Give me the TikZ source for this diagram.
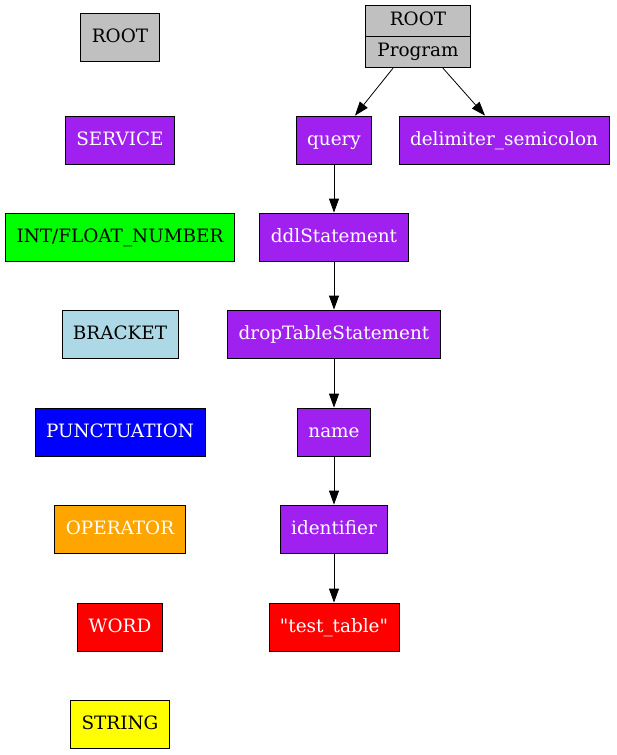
\documentclass[tikz,border=0pt]{standalone}
\usepackage{fontspec}
\setmainfont{DejaVu Serif}
\usetikzlibrary{arrows.meta,shapes.multipart}
\definecolor{root}{RGB}{192,192,192}
\definecolor{service}{RGB}{160,32,240}
\definecolor{number}{RGB}{0,255,0}
\definecolor{bracket}{RGB}{173,216,230}
\definecolor{punct}{RGB}{0,0,255}
\definecolor{operator}{RGB}{255,165,0}
\definecolor{word}{RGB}{255,0,0}
\definecolor{string}{RGB}{255,255,0}

\begin{document}
\begin{tikzpicture}[x=1pt,y=-1pt,
		box/.style={draw,line width=0.8pt,minimum height=48pt,minimum width=72pt,inner xsep=11pt,
			text height=15pt,text depth=4.5pt,font=\fontsize{18.4}{22}\selectfont},
		edge/.style={line width=0.8pt,-{Triangle[length=14pt,width=10pt]}}]
	\useasboundingbox (0,0) rectangle (616,755);
	% legende
	\foreach \Name/\Col/\Txt/\Y [count=\i] in {ROOT/root/black/37, SERVICE/service/white/140,
		{INT/FLOAT\_NUMBER}/number/black/237, BRACKET/bracket/black/334,
		PUNCTUATION/punct/white/432, OPERATOR/operator/white/529,
		WORD/word/white/627, STRING/string/black/724}{
		\node[box,fill=\Col,text=\Txt] (leg\i) at (120,\Y) {\Name};}
	% arbre
	\node[draw,line width=0.8pt,fill=root,rectangle split,rectangle split parts=2,
		minimum width=105pt,inner xsep=11pt,inner ysep=4.25pt,font=\fontsize{18.4}{22}\selectfont]
		(prog) at (418,36.5) {\strut ROOT\nodepart{two}\strut Program};
	\node[box,fill=service,text=white] (query) at (334,140) {query};
	\node[box,fill=service,text=white] (delim) at (504,140) {delimiter\_semicolon};
	\node[box,fill=service,text=white] (ddl) at (334,237) {ddlStatement};
	\node[box,fill=service,text=white] (drop) at (334,334) {dropTableStatement};
	\node[box,fill=service,text=white] (name) at (334,432) {name};
	\node[box,fill=service,text=white] (ident) at (334,529) {identifier};
	\node[box,fill=word,text=white] (table) at (334,627) {\textquotedbl test\_table\textquotedbl};
	\draw[edge] ([xshift=-25pt]prog.south) -- ([xshift=21pt]query.north);
	\draw[edge] ([xshift=25pt]prog.south) -- ([xshift=-19pt]delim.north);
	\draw[edge] (query) -- (ddl);
	\draw[edge] (ddl) -- (drop);
	\draw[edge] (drop) -- (name);
	\draw[edge] (name) -- (ident);
	\draw[edge] (ident) -- (table);
\end{tikzpicture}
\end{document}
